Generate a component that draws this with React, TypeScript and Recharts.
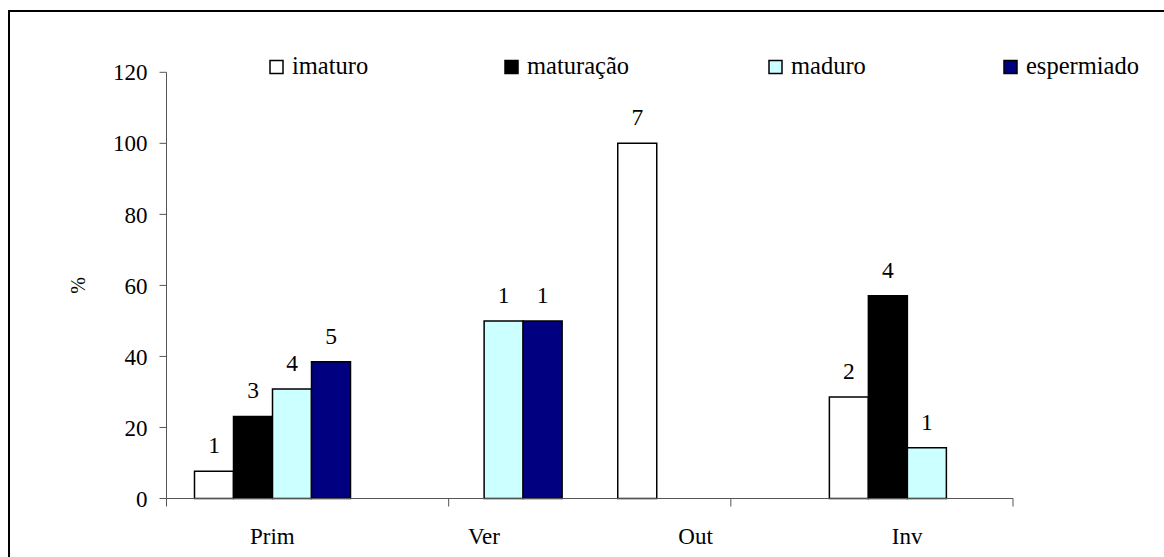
import React from "react";
import { BarChart, Bar, XAxis, YAxis, Legend, LabelList } from "recharts";

// percentages per season
const categories = ["Prim", "Ver", "Out", "Inv"];
const imaturo = [7.7, null, 100, 28.6];
const maturacao = [23.1, null, null, 57.1];
const maduro = [30.8, 50, null, 14.3];
const espermiado = [38.5, 50, null, null];

// counts printed above the bars
const imaturoN = [1, null, 7, 2];
const maturacaoN = [3, null, null, 4];
const maduroN = [4, 1, null, 1];
const espermiadoN = [5, 1, null, null];

const yTicks = [0, 20, 40, 60, 80, 100, 120];
const edgeTicks = [0, 1, 2, 3, 4];
const seriesNames = ["imaturo", "maturação", "maduro", "espermiado"];

const data = categories.map((cat, i) => ({
  cat,
  imaturo: imaturo[i],
  maturacao: maturacao[i],
  maduro: maduro[i],
  espermiado: espermiado[i],
  imaturoN: imaturoN[i],
  maturacaoN: maturacaoN[i],
  maduroN: maduroN[i],
  espermiadoN: espermiadoN[i],
}));

const FONT = "Liberation Serif";
const fills = ["#ffffff", "#000000", "#ccffff", "#000080"];
const keys = ["imaturo", "maturacao", "maduro", "espermiado"];
const txt = { fontFamily: FONT, fontSize: 23, fill: "#000" };

function CountLabel(props: any) {
  const { x, y, width, value } = props;
  if (value === null || value === undefined) return null;
  return (
    <text
      x={x + width / 2}
      y={y - 18}
      textAnchor="middle"
      fontFamily={FONT}
      fontSize={23.5}
      fill="#000"
    >
      {value}
    </text>
  );
}

function LegendBox() {
  const left = [270, 505, 769, 1004];
  return (
    <svg width={1164} height={100} style={{ display: "block" }}>
      {seriesNames.map((name, i) => (
        <g key={name}>
          <rect
            x={left[i]}
            y={60.5}
            width={13}
            height={13}
            fill={fills[i]}
            stroke="#000"
            strokeWidth={1.5}
          />
          <text x={left[i] + 22} y={74} fontFamily={FONT} fontSize={24.5} fill="#000">
            {name}
          </text>
        </g>
      ))}
    </svg>
  );
}

function PercentLabel(props: any) {
  const vb = props.viewBox || {};
  const cx = 78.5;
  const cy = vb.y + vb.height / 2;
  return (
    <text
      x={cx}
      y={cy}
      transform={`rotate(-90 ${cx} ${cy})`}
      textAnchor="middle"
      dominantBaseline="central"
      fontFamily={FONT}
      fontSize={20}
      fill="#000"
    >
      %
    </text>
  );
}

export default function App() {
  return (
    <div
      style={{
        position: "absolute",
        left: 0,
        top: 0,
        width: 1164,
        height: 557,
        overflow: "hidden",
        background: "#fff",
        fontFamily: FONT,
      }}
    >
      <div
        style={{
          position: "absolute",
          left: 8,
          top: 10,
          width: 1200,
          height: 600,
          border: "2px solid #000",
        }}
      />
      <div style={{ position: "absolute", left: 0, top: 0 }}>
        <BarChart
          width={1164}
          height={557}
          data={data}
          margin={{ top: 72.3, right: 151, bottom: 11.5, left: 66.5 }}
          barCategoryGap={28}
          barGap={0}
        >
          <XAxis
            xAxisId="a"
            type="number"
            domain={[0, 4]}
            ticks={edgeTicks}
            allowDataOverflow
            height={1}
            tick={() => <g />}
            tickSize={8}
            axisLine={{ stroke: "#555", strokeWidth: 1 }}
            tickLine={{ stroke: "#555", strokeWidth: 1 }}
          />
          <XAxis
            xAxisId="b"
            dataKey="cat"
            height={46}
            tickSize={0}
            tickMargin={28}
            tickLine={false}
            axisLine={false}
            tick={txt}
          />
          <YAxis
            width={100}
            domain={[0, 120]}
            ticks={yTicks}
            interval={0}
            tickSize={7}
            tickMargin={12}
            axisLine={{ stroke: "#555", strokeWidth: 1 }}
            tickLine={{ stroke: "#555", strokeWidth: 1 }}
            tick={txt}
            label={<PercentLabel />}
          />
          <Legend
            layout="horizontal"
            verticalAlign="middle"
            align="center"
            wrapperStyle={{ top: 0, left: 0, width: 1164, height: 100 }}
            content={() => <LegendBox />}
          />
          {keys.map((k, i) => (
            <Bar
              key={k}
              xAxisId="b"
              dataKey={k}
              fill={fills[i]}
              stroke="#000"
              strokeWidth={1.5}
              isAnimationActive={false}
            >
              <LabelList dataKey={k + "N"} content={<CountLabel />} />
            </Bar>
          ))}
        </BarChart>
      </div>
    </div>
  );
}
